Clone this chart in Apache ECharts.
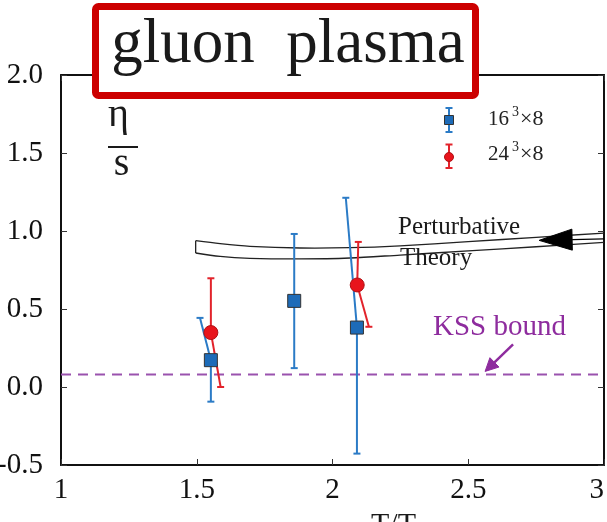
<!DOCTYPE html>
<html>
<head>
<meta charset="utf-8">
<script src="https://cdn.jsdelivr.net/npm/echarts@6/dist/echarts.min.js"></script>
<style>
html,body{margin:0;padding:0;background:#fff;}
#chart{width:607px;height:522px;}
</style>
</head>
<body>
<div id="chart"></div>
<script>
// ---- data ----
const xTickLabels = ['1', '1.5', '2', '2.5', '3'];
const yTickLabels = ['-0.5', '0.0', '0.5', '1.0', '1.5', '2.0'];

// 16^3 x 8 (blue squares); error bars may be slanted: high/low ends have their own x
const blueX     = [1.552, 1.859, 2.090];
const blueY     = [0.172, 0.552, 0.381];
const blueHighX = [1.512, 1.859, 2.049];
const blueHigh  = [0.443, 0.981, 1.213];
const blueLowX  = [1.552, 1.859, 2.090];
const blueLow   = [-0.094, 0.121, -0.427];

// 24^3 x 8 (red circles)
const redX     = [1.552, 2.091];
const redY     = [0.349, 0.654];
const redHighX = [1.552, 2.095];
const redHigh  = [0.697, 0.930];
const redLowX  = [1.588, 2.134];
const redLow   = [0.000, 0.386];

// perturbative theory band
const bandX   = [1.496, 1.586, 1.696, 1.880, 2.064, 2.249, 2.500, 2.750, 3.000];
const bandTop = [0.938, 0.919, 0.902, 0.891, 0.893, 0.905, 0.932, 0.959, 0.987];
const bandBot = [0.859, 0.837, 0.825, 0.821, 0.827, 0.846, 0.872, 0.899, 0.927];

// KSS bound 1/(4π)
const kss = 0.0796;
const kssX = [1, 3];

// annotation arrows: [xFrom, yFrom, xTo, yTo]
const theoryArrow = [3.0, 0.949, 2.761, 0.940];
const kssArrow = [2.665, 0.273, 2.562, 0.100];

// ---- chart ----
const chart = echarts.init(document.getElementById('chart'), null, {renderer: 'canvas'});
const serif = 'Liberation Serif, Times New Roman, serif';
const purple = '#8e2c9e';

function errData(xs, ys, hx, hy, lx, ly) {
  return xs.map((x, i) => [x, ys[i], hx[i], hy[i], lx[i], ly[i]]);
}
function errRender(color) {
  return function (params, api) {
    const c = api.coord([api.value(0), api.value(1)]);
    const h = api.coord([api.value(2), api.value(3)]);
    const l = api.coord([api.value(4), api.value(5)]);
    const w = 3.5;
    const st = {stroke: color, lineWidth: 2};
    return {type: 'group', children: [
      {type: 'line', shape: {x1: c[0], y1: c[1], x2: h[0], y2: h[1]}, style: st},
      {type: 'line', shape: {x1: c[0], y1: c[1], x2: l[0], y2: l[1]}, style: st},
      {type: 'line', shape: {x1: h[0] - w, y1: h[1], x2: h[0] + w, y2: h[1]}, style: st},
      {type: 'line', shape: {x1: l[0] - w, y1: l[1], x2: l[0] + w, y2: l[1]}, style: st}
    ]};
  };
}
function arrowRender(color, lw, headLen, headHalf) {
  return function (params, api) {
    const a = api.coord([api.value(0), api.value(1)]);
    const b = api.coord([api.value(2), api.value(3)]);
    const dx = b[0] - a[0], dy = b[1] - a[1];
    const len = Math.sqrt(dx * dx + dy * dy);
    const ux = dx / len, uy = dy / len;
    const bx = b[0] - ux * headLen, by = b[1] - uy * headLen;
    const px = -uy, py = ux;
    return {type: 'group', children: [
      {type: 'line', shape: {x1: a[0], y1: a[1], x2: bx, y2: by}, style: {stroke: color, lineWidth: lw}},
      {type: 'polygon', shape: {points: [[b[0], b[1]], [bx + px * headHalf, by + py * headHalf], [bx - px * headHalf, by - py * headHalf]]},
       style: {fill: color, stroke: color, lineWidth: 1}}
    ]};
  };
}

const axisLineStyle = {color: '#111', width: 2};
const tickStyle = {color: '#333', width: 1};

const option = {
  animation: false,
  backgroundColor: '#fff',
  grid: {left: 61, right: 3, top: 75, bottom: 57, containLabel: false, outerBoundsMode: 'none'},
  xAxis: [
    {type: 'value', min: 1, max: 3, interval: 0.5, position: 'bottom',
     axisLine: {show: true, onZero: false, lineStyle: axisLineStyle},
     axisTick: {show: true, inside: true, length: 6, lineStyle: tickStyle},
     axisLabel: {show: true, margin: 11, fontSize: 29, fontFamily: serif, color: '#111',
       showMinLabel: true, showMaxLabel: true, alignMaxLabel: 'right',
       formatter: v => xTickLabels[Math.round((v - 1) / 0.5)]},
     splitLine: {show: false}},
    {type: 'value', min: 1, max: 3, interval: 0.5, position: 'top',
     axisLine: {show: true, onZero: false, lineStyle: axisLineStyle},
     axisTick: {show: true, inside: true, length: 6, lineStyle: tickStyle},
     axisLabel: {show: false}, splitLine: {show: false}}
  ],
  yAxis: [
    {type: 'value', min: -0.5, max: 2, interval: 0.5, position: 'left',
     axisLine: {show: true, onZero: false, lineStyle: axisLineStyle},
     axisTick: {show: true, inside: true, length: 6, lineStyle: tickStyle},
     axisLabel: {show: true, margin: 18, fontSize: 29, fontFamily: serif, color: '#111',
       showMinLabel: true, showMaxLabel: true,
       formatter: v => yTickLabels[Math.round((v + 0.5) / 0.5)]},
     splitLine: {show: false}},
    {type: 'value', min: -0.5, max: 2, interval: 0.5, position: 'right',
     axisLine: {show: true, onZero: false, lineStyle: axisLineStyle},
     axisTick: {show: true, inside: true, length: 6, lineStyle: tickStyle},
     axisLabel: {show: false}, splitLine: {show: false}}
  ],
  series: [
    {type: 'line', name: 'KSS', data: kssX.map(x => [x, kss]), showSymbol: false, symbol: 'none',
     lineStyle: {color: '#9a52ae', width: 2, type: [10, 7]}, silent: true, z: 1},
    {type: 'custom', name: 'band', data: [[bandX[0], bandTop[0]]],
     renderItem: function (params, api) {
       const top = bandX.map((x, i) => api.coord([x, bandTop[i]]));
       const bot = bandX.map((x, i) => api.coord([x, bandBot[i]]));
       const st = {fill: 'none', stroke: '#222', lineWidth: 1.3};
       return {type: 'group', children: [
         {type: 'polyline', shape: {points: top, smooth: 0.3}, style: st},
         {type: 'polyline', shape: {points: bot, smooth: 0.3}, style: st},
         {type: 'line', shape: {x1: top[0][0], y1: top[0][1], x2: bot[0][0], y2: bot[0][1]}, style: st}
       ]};
     }, encode: {x: 0, y: 1}, z: 2},
    {type: 'custom', name: 'theoryArrow', data: [theoryArrow],
     renderItem: arrowRender('#000', 1.2, 33, 10.5), encode: {x: [0, 2], y: [1, 3]}, z: 2},
    {type: 'custom', name: 'kssArrow', data: [kssArrow],
     renderItem: arrowRender(purple, 2.5, 13, 6.5), encode: {x: [0, 2], y: [1, 3]}, z: 2},
    {type: 'custom', name: 'blueErr', data: errData(blueX, blueY, blueHighX, blueHigh, blueLowX, blueLow),
     renderItem: errRender('#2b7bc6'), encode: {x: [0, 2, 4], y: [1, 3, 5]}, z: 3},
    {type: 'custom', name: 'redErr', data: errData(redX, redY, redHighX, redHigh, redLowX, redLow),
     renderItem: errRender('#e2232b'), encode: {x: [0, 2, 4], y: [1, 3, 5]}, z: 3},
    {type: 'scatter', name: '16^3x8', data: blueX.map((x, i) => [x, blueY[i]]), symbol: 'rect', symbolSize: 13,
     itemStyle: {color: '#1d6bb8', borderColor: '#333', borderWidth: 1, opacity: 1}, z: 4},
    {type: 'scatter', name: '24^3x8', data: redX.map((x, i) => [x, redY[i]]), symbol: 'circle', symbolSize: 14,
     itemStyle: {color: '#e8141c', borderColor: '#b01014', borderWidth: 1, opacity: 1}, z: 5}
  ],
  graphic: [
    // title box
    {type: 'rect', z: 100, shape: {x: 95.5, y: 6.5, width: 380, height: 89, r: 3},
     style: {fill: '#fff', stroke: '#cc0000', lineWidth: 7}},
    {type: 'text', z: 101, x: 288, y: 45.5,
     style: {text: 'gluon  plasma', font: '63px ' + serif, fill: '#1a1a1a', textAlign: 'center', textVerticalAlign: 'middle'}},
    // eta / s
    {type: 'text', z: 100, x: 118.5, y: 115,
     style: {text: 'η', font: '40px ' + serif, fill: '#1a1a1a', textAlign: 'center', textVerticalAlign: 'middle'}},
    {type: 'line', z: 100, shape: {x1: 108, y1: 147, x2: 138, y2: 147}, style: {stroke: '#1a1a1a', lineWidth: 2}},
    {type: 'text', z: 100, x: 121.5, y: 164.5,
     style: {text: 's', font: '40px ' + serif, fill: '#1a1a1a', textAlign: 'center', textVerticalAlign: 'middle'}},
    // legend: blue
    {type: 'line', z: 100, shape: {x1: 449, y1: 108, x2: 449, y2: 132}, style: {stroke: '#2b7bc6', lineWidth: 2}},
    {type: 'line', z: 100, shape: {x1: 445.5, y1: 108, x2: 452.5, y2: 108}, style: {stroke: '#2b7bc6', lineWidth: 2}},
    {type: 'line', z: 100, shape: {x1: 445.5, y1: 132, x2: 452.5, y2: 132}, style: {stroke: '#2b7bc6', lineWidth: 2}},
    {type: 'rect', z: 101, shape: {x: 444.5, y: 115.5, width: 9, height: 9}, style: {fill: '#1d6bb8', stroke: '#333', lineWidth: 1}},
    {type: 'text', z: 100, x: 488, y: 119.6, style: {text: '16', font: '21px ' + serif, fill: '#222', textVerticalAlign: 'middle'}},
    {type: 'text', z: 100, x: 512, y: 112, style: {text: '3', font: '14px ' + serif, fill: '#222', textVerticalAlign: 'middle'}},
    {type: 'text', z: 100, x: 520, y: 119.6, style: {text: '×8', font: '22px ' + serif, fill: '#222', textVerticalAlign: 'middle'}},
    // legend: red
    {type: 'line', z: 100, shape: {x1: 449, y1: 144.5, x2: 449, y2: 168}, style: {stroke: '#e2232b', lineWidth: 2}},
    {type: 'line', z: 100, shape: {x1: 445.5, y1: 144.5, x2: 452.5, y2: 144.5}, style: {stroke: '#e2232b', lineWidth: 2}},
    {type: 'line', z: 100, shape: {x1: 445.5, y1: 168, x2: 452.5, y2: 168}, style: {stroke: '#e2232b', lineWidth: 2}},
    {type: 'circle', z: 101, shape: {cx: 449, cy: 157, r: 4.5}, style: {fill: '#e8141c', stroke: '#b01014', lineWidth: 1}},
    {type: 'text', z: 100, x: 488, y: 154.6, style: {text: '24', font: '21px ' + serif, fill: '#222', textVerticalAlign: 'middle'}},
    {type: 'text', z: 100, x: 512, y: 147, style: {text: '3', font: '14px ' + serif, fill: '#222', textVerticalAlign: 'middle'}},
    {type: 'text', z: 100, x: 520, y: 154.6, style: {text: '×8', font: '22px ' + serif, fill: '#222', textVerticalAlign: 'middle'}},
    // annotations
    {type: 'text', z: 100, x: 398, y: 227.6, style: {text: 'Perturbative', font: '25px ' + serif, fill: '#1a1a1a', textVerticalAlign: 'middle'}},
    {type: 'text', z: 100, x: 400, y: 258.1, style: {text: 'Theory', font: '25px ' + serif, fill: '#1a1a1a', textVerticalAlign: 'middle'}},
    {type: 'text', z: 100, x: 433, y: 326.9, style: {text: 'KSS bound', font: '29px ' + serif, fill: purple, textVerticalAlign: 'middle'}},
    // x axis name (cut by the bottom edge)
    {type: 'text', z: 100, x: 371, y: 525, style: {text: 'T/T', font: '30px ' + serif, fill: '#1a1a1a', textVerticalAlign: 'middle'}},
    {type: 'text', z: 100, x: 412, y: 531, style: {text: 'c', font: '20px ' + serif, fill: '#1a1a1a', textVerticalAlign: 'middle'}}
  ]
};
chart.setOption(option);
</script>
</body>
</html>
